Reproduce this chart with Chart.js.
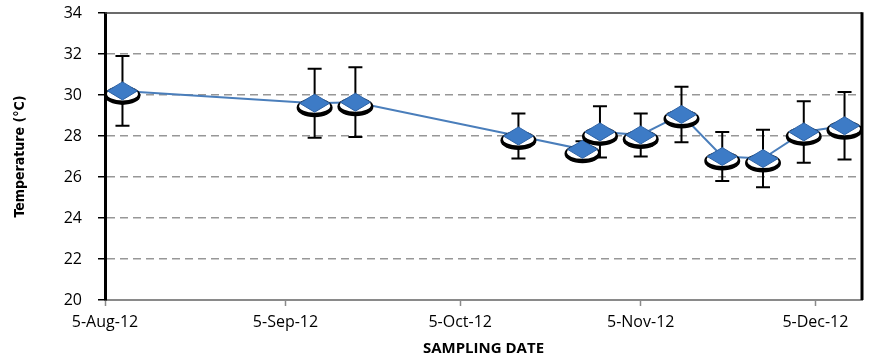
<!DOCTYPE html>
<html>
<head>
<meta charset="utf-8">
<script src="https://cdn.jsdelivr.net/npm/chart.js@4.4.1/dist/chart.umd.min.js"></script>
<style>
  html, body { margin: 0; padding: 0; background: #fff; }
  #wrap { width: 882px; height: 358px; }
</style>
</head>
<body>
<div id="wrap"><canvas id="c" width="882" height="358"></canvas></div>
<script>
// Sampling dates and mean water temperature (°C) with standard deviation
const sampleDates = ['2012-08-08', '2012-09-10', '2012-09-17', '2012-10-15', '2012-10-26', '2012-10-29',
                     '2012-11-05', '2012-11-12', '2012-11-19', '2012-11-26', '2012-12-03', '2012-12-10'];
const meanTemp = [30.2, 29.6, 29.65, 28.0, 27.35, 28.2, 28.05, 29.05, 27.0, 26.9, 28.2, 28.5];
const sdTemp   = [1.7, 1.68, 1.7, 1.1, 0.4, 1.25, 1.05, 1.35, 1.2, 1.4, 1.5, 1.65];

// Date axis ticks
const xTickDates  = ['2012-08-05', '2012-09-05', '2012-10-05', '2012-11-05', '2012-12-05'];
const xTickLabels = ['5-Aug-12', '5-Sep-12', '5-Oct-12', '5-Nov-12', '5-Dec-12'];
const xAxisEnd = '2012-12-13';

// Temperature axis ticks
const yTicks = [20, 22, 24, 26, 28, 30, 32, 34];

const DAY = 86400000;
const origin = Date.parse(xTickDates[0]);
const toDay = d => (Date.parse(d) - origin) / DAY;

const points = sampleDates.map((d, i) => ({ x: toDay(d), y: meanTemp[i] }));
const xTickDays = xTickDates.map(toDay);

// Frame: top edge and right edge of the plot
const framePlugin = {
  id: 'frame',
  beforeDatasetsDraw(chart) {
    const { ctx, chartArea: a } = chart;
    ctx.save();
    ctx.strokeStyle = '#3a3a3a';
    ctx.lineWidth = 1.5;
    ctx.beginPath();
    ctx.moveTo(a.left, a.top);
    ctx.lineTo(a.right, a.top);
    ctx.stroke();
    ctx.strokeStyle = '#000';
    ctx.lineWidth = 3;
    ctx.beginPath();
    ctx.moveTo(a.right, a.top - 0.75);
    ctx.lineTo(a.right, a.bottom);
    ctx.stroke();
    ctx.restore();
  }
};

// Error bars (± SD) and shadowed diamond markers
const markerPlugin = {
  id: 'markers',
  afterDatasetsDraw(chart) {
    const { ctx } = chart;
    const yScale = chart.scales.y;
    const meta = chart.getDatasetMeta(0);
    ctx.save();
    // whiskers
    ctx.strokeStyle = '#000';
    ctx.lineWidth = 2;
    meta.data.forEach((pt, i) => {
      const x = pt.x;
      const yTop = yScale.getPixelForValue(meanTemp[i] + sdTemp[i]);
      const yBot = yScale.getPixelForValue(meanTemp[i] - sdTemp[i]);
      ctx.beginPath();
      ctx.moveTo(x, yTop); ctx.lineTo(x, yBot);
      ctx.moveTo(x - 7, yTop); ctx.lineTo(x + 7, yTop);
      ctx.moveTo(x - 7, yBot); ctx.lineTo(x + 7, yBot);
      ctx.stroke();
    });
    // markers
    meta.data.forEach(pt => {
      const x = pt.x, y = pt.y;
      ctx.fillStyle = '#000';
      ctx.beginPath();
      ctx.ellipse(x, y + 4.5, 18, 9.5, 0, 0, Math.PI * 2);
      ctx.fill();
      ctx.fillStyle = '#fff';
      ctx.beginPath();
      ctx.ellipse(x, y + 3, 15.5, 6.5, 0, 0, Math.PI * 2);
      ctx.fill();
      ctx.fillStyle = '#3d7bc6';
      ctx.strokeStyle = '#2e63a6';
      ctx.lineWidth = 1;
      ctx.beginPath();
      ctx.moveTo(x - 15, y);
      ctx.lineTo(x, y - 9);
      ctx.lineTo(x + 15, y);
      ctx.lineTo(x, y + 9);
      ctx.closePath();
      ctx.fill();
      ctx.stroke();
    });
    ctx.restore();
  }
};

new Chart(document.getElementById('c'), {
  type: 'line',
  data: {
    datasets: [{
      data: points,
      borderColor: '#4a7ebb',
      borderWidth: 2,
      pointRadius: 0,
      pointHoverRadius: 0,
      tension: 0,
      fill: false
    }]
  },
  options: {
    responsive: false,
    devicePixelRatio: 1,
    animation: false,
    events: [],
    layout: { padding: { top: 13, right: 20, left: 0, bottom: 0 } },
    plugins: { legend: { display: false }, tooltip: { enabled: false } },
    scales: {
      x: {
        type: 'linear',
        min: 0,
        max: toDay(xAxisEnd),
        afterBuildTicks: s => { s.ticks = xTickDays.map(v => ({ value: v })); },
        afterFit: s => { s.height = 58; s.paddingLeft = 0; s.paddingRight = 0; },
        ticks: {
          autoSkip: false,
          maxRotation: 0,
          padding: 7,
          color: '#000',
          font: { family: 'Open Sans', size: 16 },
          callback: v => {
            const k = xTickDays.indexOf(v);
            return k >= 0 ? xTickLabels[k] : '';
          }
        },
        grid: { drawOnChartArea: false, drawTicks: true, tickLength: 6, tickColor: '#8a8a8a', tickWidth: 1.5 },
        border: { display: true, color: '#8a8a8a', width: 2 },
        title: {
          display: true,
          text: 'SAMPLING DATE',
          color: '#000',
          font: { family: 'Open Sans', size: 15, weight: 'bold' },
          padding: { top: 0, bottom: 0 }
        }
      },
      y: {
        min: 20,
        max: 34,
        afterBuildTicks: s => { s.ticks = yTicks.map(v => ({ value: v })); },
        afterFit: s => { s.width = 105; s.paddingTop = 0; s.paddingBottom = 0; },
        ticks: {
          padding: 16,
          color: '#000',
          font: { family: 'Open Sans', size: 16 }
        },
        grid: {
          color: c => (c.tick && (c.tick.value === 20 || c.tick.value === 34)) ? 'rgba(0,0,0,0)' : '#979797',
          lineWidth: 1.5,
          tickColor: '#000',
          tickLength: 7,
          tickWidth: 1.5
        },
        border: { display: true, color: '#000', width: 3, dash: [8, 5] },
        title: {
          display: true,
          text: 'Temperature (°C)',
          color: '#000',
          font: { family: '"DejaVu Sans Condensed", "Liberation Sans", sans-serif', size: 14, weight: 'bold' },
          padding: { top: 12, bottom: 0 }
        }
      }
    }
  },
  plugins: [framePlugin, markerPlugin]
});
</script>
</body>
</html>
